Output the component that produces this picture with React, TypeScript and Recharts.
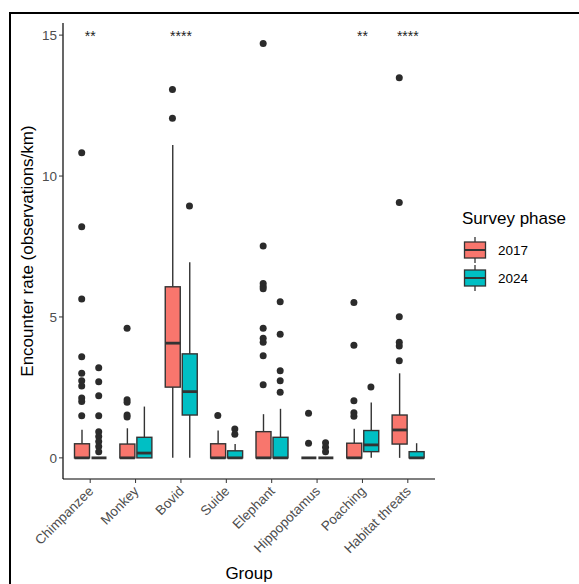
import React from 'react';
import { ComposedChart, Bar, Scatter, XAxis, YAxis } from 'recharts';

const groups = ['Chimpanzee', 'Monkey', 'Bovid', 'Suide', 'Elephant', 'Hippopotamus', 'Poaching', 'Habitat threats'];

// 2017 box stats (whisker low, q1, median, q3, whisker high)
const lo2017 = [0, 0, 0, 0, 0, 0, 0, 0];
const q1_2017 = [0, 0, 2.51, 0, 0, 0, 0, 0.49];
const med2017 = [0, 0, 4.07, 0, 0, 0, 0, 0.99];
const q3_2017 = [0.5, 0.49, 6.07, 0.5, 0.93, 0, 0.52, 1.52];
const hi2017 = [1.0, 1.05, 11.1, 0.97, 1.55, 0, 1.03, 3.0];
const out2017 = [
  [10.83, 8.2, 5.64, 3.59, 3.0, 2.74, 2.55, 2.12, 2.0, 1.49],
  [4.6, 2.06, 1.97, 1.52, 1.45],
  [13.07, 12.05],
  [1.5],
  [14.7, 7.52, 6.19, 6.08, 6.0, 4.6, 4.24, 4.1, 3.62, 2.59],
  [1.58, 0.52],
  [5.51, 4.0, 2.03, 1.6, 1.48],
  [13.49, 9.06, 5.01, 4.1, 3.97, 3.45],
];

// 2024 box stats
const lo2024 = [0, 0, 0, 0, 0, 0, 0, 0];
const q1_2024 = [0, 0, 1.52, 0, 0, 0, 0.22, 0];
const med2024 = [0, 0.17, 2.35, 0, 0, 0, 0.46, 0];
const q3_2024 = [0, 0.73, 3.69, 0.25, 0.73, 0, 0.97, 0.22];
const hi2024 = [0, 1.82, 6.94, 0.49, 1.74, 0, 1.96, 0.52];
const out2024 = [
  [3.2, 2.7, 2.2, 1.49, 0.93, 0.76, 0.58, 0.4, 0.22],
  [],
  [8.94],
  [1.02, 0.84],
  [5.54, 4.39, 3.09, 2.74, 2.33],
  [0.54, 0.38, 0.22],
  [2.51],
  [],
];

const significance = ['**', '', '****', '', '', '', '**', '****'];
const sigLevel = 15;
const yTicks = [0, 5, 10, 15];

const COL_2017 = '#F8766D';
const COL_2024 = '#00BFC4';
const INK = '#333333';
const DODGE = 0.1875;

const rows = groups.map((g, i) => ({
  group: g,
  r2017: [lo2017[i], hi2017[i]],
  r2024: [lo2024[i], hi2024[i]],
  s2017: { lo: lo2017[i], q1: q1_2017[i], med: med2017[i], q3: q3_2017[i], hi: hi2017[i] },
  s2024: { lo: lo2024[i], q1: q1_2024[i], med: med2024[i], q3: q3_2024[i], hi: hi2024[i] },
}));

const outPts2017 = out2017.flatMap((vals, i) => vals.map((v) => ({ x: i - DODGE, y: v })));
const outPts2024 = out2024.flatMap((vals, i) => vals.map((v) => ({ x: i + DODGE, y: v })));
const sigPts = significance
  .map((label, i) => ({ x: i, y: sigLevel, label }))
  .filter((d) => d.label);

const BoxShape = (props: any) => {
  const { x, y, width, height, payload, statKey, color } = props;
  const s = payload[statKey];
  const top = Math.min(y, y + height);
  const bottom = Math.max(y, y + height);
  const span = s.hi - s.lo;
  const py = (v: number) => (span > 0 ? bottom - ((v - s.lo) / span) * (bottom - top) : bottom);
  const cx = x + width / 2;
  return (
    <g>
      <line x1={cx} x2={cx} y1={py(s.hi)} y2={py(s.q3)} stroke={INK} strokeWidth={1.4} />
      <line x1={cx} x2={cx} y1={py(s.q1)} y2={py(s.lo)} stroke={INK} strokeWidth={1.4} />
      <rect
        x={x}
        y={py(s.q3)}
        width={width}
        height={Math.max(py(s.q1) - py(s.q3), 0)}
        fill={color}
        stroke={INK}
        strokeWidth={1.4}
      />
      <line x1={x} x2={x + width} y1={py(s.med)} y2={py(s.med)} stroke={INK} strokeWidth={2.8} />
    </g>
  );
};

const Dot = (props: any) => <circle cx={props.cx} cy={props.cy} r={3.5} fill="#2b2b2b" />;

const SigText = (props: any) => (
  <text x={props.cx} y={props.cy + 6} textAnchor="middle" fontSize={14} fill="#222">
    {props.payload.label}
  </text>
);

const XTick = (props: any) => {
  const { x, y, payload } = props;
  return (
    <g transform={`translate(${x + 4},${y + 7})`}>
      <text textAnchor="end" transform="rotate(-45)" fill="#4d4d4d" fontSize={13.5}>
        {payload.value}
      </text>
    </g>
  );
};

const YLabel = (props: any) => {
  const vb = props.viewBox;
  const cy = vb.y + vb.height / 2;
  return (
    <text
      x={27}
      y={cy}
      transform={`rotate(-90, 27, ${cy})`}
      textAnchor="middle"
      dominantBaseline="central"
      fontSize={17}
      fill="#000"
    >
      Encounter rate (observations/km)
    </text>
  );
};

const LegendKey = ({ color }: { color: string }) => (
  <svg width={24} height={28} style={{ display: 'block' }}>
    <line x1={12} x2={12} y1={1} y2={6} stroke={INK} strokeWidth={1.3} />
    <line x1={12} x2={12} y1={22} y2={27} stroke={INK} strokeWidth={1.3} />
    <rect x={1.5} y={6} width={21} height={16} fill={color} stroke={INK} strokeWidth={1.3} />
    <line x1={1.5} x2={22.5} y1={14} y2={14} stroke={INK} strokeWidth={2} />
  </svg>
);

export default function App() {
  return (
    <div
      style={{
        position: 'absolute',
        left: 0,
        top: 0,
        width: 579,
        height: 584,
        background: '#fff',
        overflow: 'hidden',
        fontFamily: '"Liberation Sans", Arial, sans-serif',
      }}
    >
      <ComposedChart
        width={579}
        height={584}
        data={rows}
        margin={{ top: 23, right: 144, bottom: 0, left: 0 }}
        barSize={15}
        barGap={2}
      >
        <XAxis
          xAxisId="c"
          dataKey="group"
          height={105}
          padding={{ left: 4.5, right: 4.5 }}
          interval={0}
          tick={<XTick />}
          tickSize={4}
          tickLine={{ stroke: INK }}
          axisLine={{ stroke: '#000', strokeWidth: 1.2 }}
          label={{ value: 'Group', position: 'insideBottom', offset: 5, fill: '#000', fontSize: 17 }}
        />
        <XAxis xAxisId="n" dataKey="x" type="number" domain={[-0.6, 7.6]} allowDataOverflow hide />
        <YAxis
          type="number"
          domain={[-0.75, 15.43]}
          allowDataOverflow
          ticks={yTicks}
          width={63}
          tickSize={4}
          tick={{ fill: '#4d4d4d', fontSize: 13.5 }}
          tickLine={{ stroke: INK }}
          axisLine={{ stroke: '#000', strokeWidth: 1.2 }}
          label={<YLabel />}
        />
        <Bar
          xAxisId="c"
          dataKey="r2017"
          isAnimationActive={false}
          shape={(p: any) => <BoxShape {...p} statKey="s2017" color={COL_2017} />}
        />
        <Bar
          xAxisId="c"
          dataKey="r2024"
          isAnimationActive={false}
          shape={(p: any) => <BoxShape {...p} statKey="s2024" color={COL_2024} />}
        />
        <Scatter xAxisId="n" data={outPts2017} dataKey="y" shape={<Dot />} isAnimationActive={false} />
        <Scatter xAxisId="n" data={outPts2024} dataKey="y" shape={<Dot />} isAnimationActive={false} />
        <Scatter xAxisId="n" data={sigPts} dataKey="y" shape={<SigText />} isAnimationActive={false} />
      </ComposedChart>

      <div style={{ position: 'absolute', left: 462, top: 208, color: '#000' }}>
        <div style={{ fontSize: 17, lineHeight: '22px', marginBottom: 6 }}>Survey phase</div>
        <div style={{ display: 'flex', alignItems: 'center', height: 28, marginLeft: 1 }}>
          <LegendKey color={COL_2017} />
          <span style={{ fontSize: 13.5, marginLeft: 11, color: '#000' }}>2017</span>
        </div>
        <div style={{ display: 'flex', alignItems: 'center', height: 28, marginLeft: 1 }}>
          <LegendKey color={COL_2024} />
          <span style={{ fontSize: 13.5, marginLeft: 11, color: '#000' }}>2024</span>
        </div>
      </div>

      <div
        style={{
          position: 'absolute',
          left: 9,
          top: 12,
          width: 600,
          height: 600,
          borderTop: '2px solid #000',
          borderLeft: '2px solid #000',
          pointerEvents: 'none',
        }}
      />
    </div>
  );
}
